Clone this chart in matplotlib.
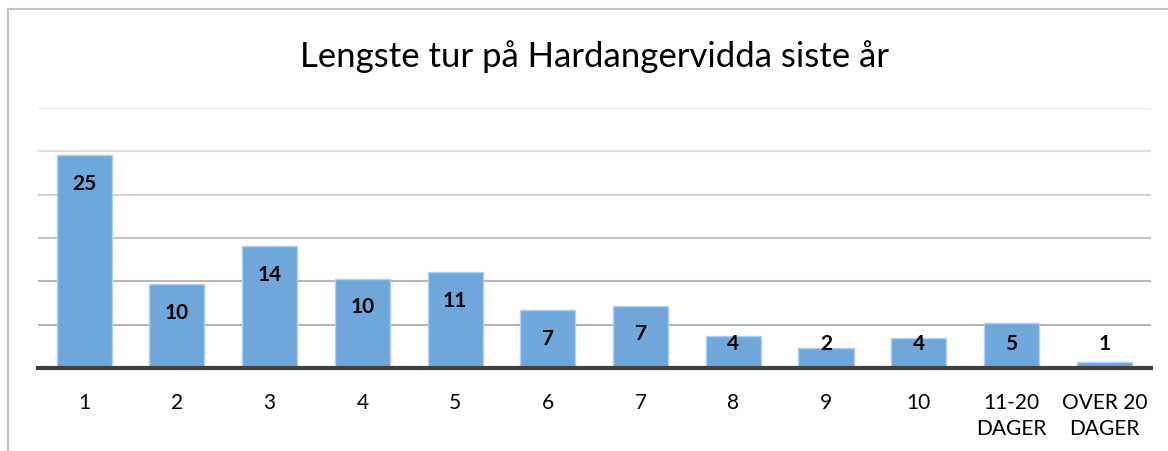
import matplotlib.pyplot as plt
from matplotlib.lines import Line2D

plt.rcParams['font.family'] = ['Lato', 'DejaVu Sans']

# data
categories = ['1', '2', '3', '4', '5', '6', '7', '8', '9', '10',
              '11-20\nDAGER', 'OVER 20\nDAGER']
heights = [24.6, 9.7, 14.05, 10.3, 11.1, 6.7, 7.2, 3.7, 2.3, 3.5, 5.15, 0.73]
value_labels = [25, 10, 14, 10, 11, 7, 7, 4, 2, 4, 5, 1]

fig = plt.figure(figsize=(11.68, 4.52), dpi=100)
ax = fig.add_axes([0.0323, 0.1836, 0.9529, 0.5752])

x = range(len(categories))
ax.bar(x, heights, width=0.595, color='#70a7da', edgecolor='#b3cfee',
       linewidth=1, zorder=2)

# data labels: inside end, kept just above the axis for short bars
for xi, h, lab in zip(x, heights, value_labels):
    ax.text(xi, max(h - 3.2, 2.9), str(lab), ha='center', va='center',
            fontsize=15, fontweight='bold', color='black', zorder=3)

ax.set_xlim(-0.5, len(categories) - 0.5)
ax.set_ylim(0, 30)
ax.set_yticks([5, 10, 15, 20, 25, 30])
ax.set_xticks(list(x))
ax.set_xticklabels(categories, fontsize=15, linespacing=1.4)
ax.tick_params(axis='x', length=0, pad=17)
ax.tick_params(axis='y', length=0, labelleft=False)

ax.yaxis.grid(True, linewidth=1.5, zorder=0)
grid_colors = ['#b4b4b4', '#b8b8b8', '#c4c4c4', '#d2d2d2', '#dedede', '#e8e8e8']
for gl, c in zip(ax.get_ygridlines(), grid_colors):
    gl.set_color(c)
ax.set_axisbelow(True)

for s in ['left', 'right', 'top']:
    ax.spines[s].set_visible(False)
ax.spines['bottom'].set_color('#404040')
ax.spines['bottom'].set_linewidth(3)
ax.spines['bottom'].set_zorder(4)

fig.text(0.5086, 0.874, 'Lengste tur på Hardangervidda siste år',
         ha='center', va='center', fontsize=25)

# chart border (left and top edges visible)
fig.add_artist(Line2D([8 / 1168, 8 / 1168], [0, 1 - 10 / 452],
                      color='#c4c4c4', linewidth=1.5))
fig.add_artist(Line2D([8 / 1168, 1], [1 - 10 / 452, 1 - 10 / 452],
                      color='#c4c4c4', linewidth=1.5))

fig.savefig('out.png', dpi=100)
